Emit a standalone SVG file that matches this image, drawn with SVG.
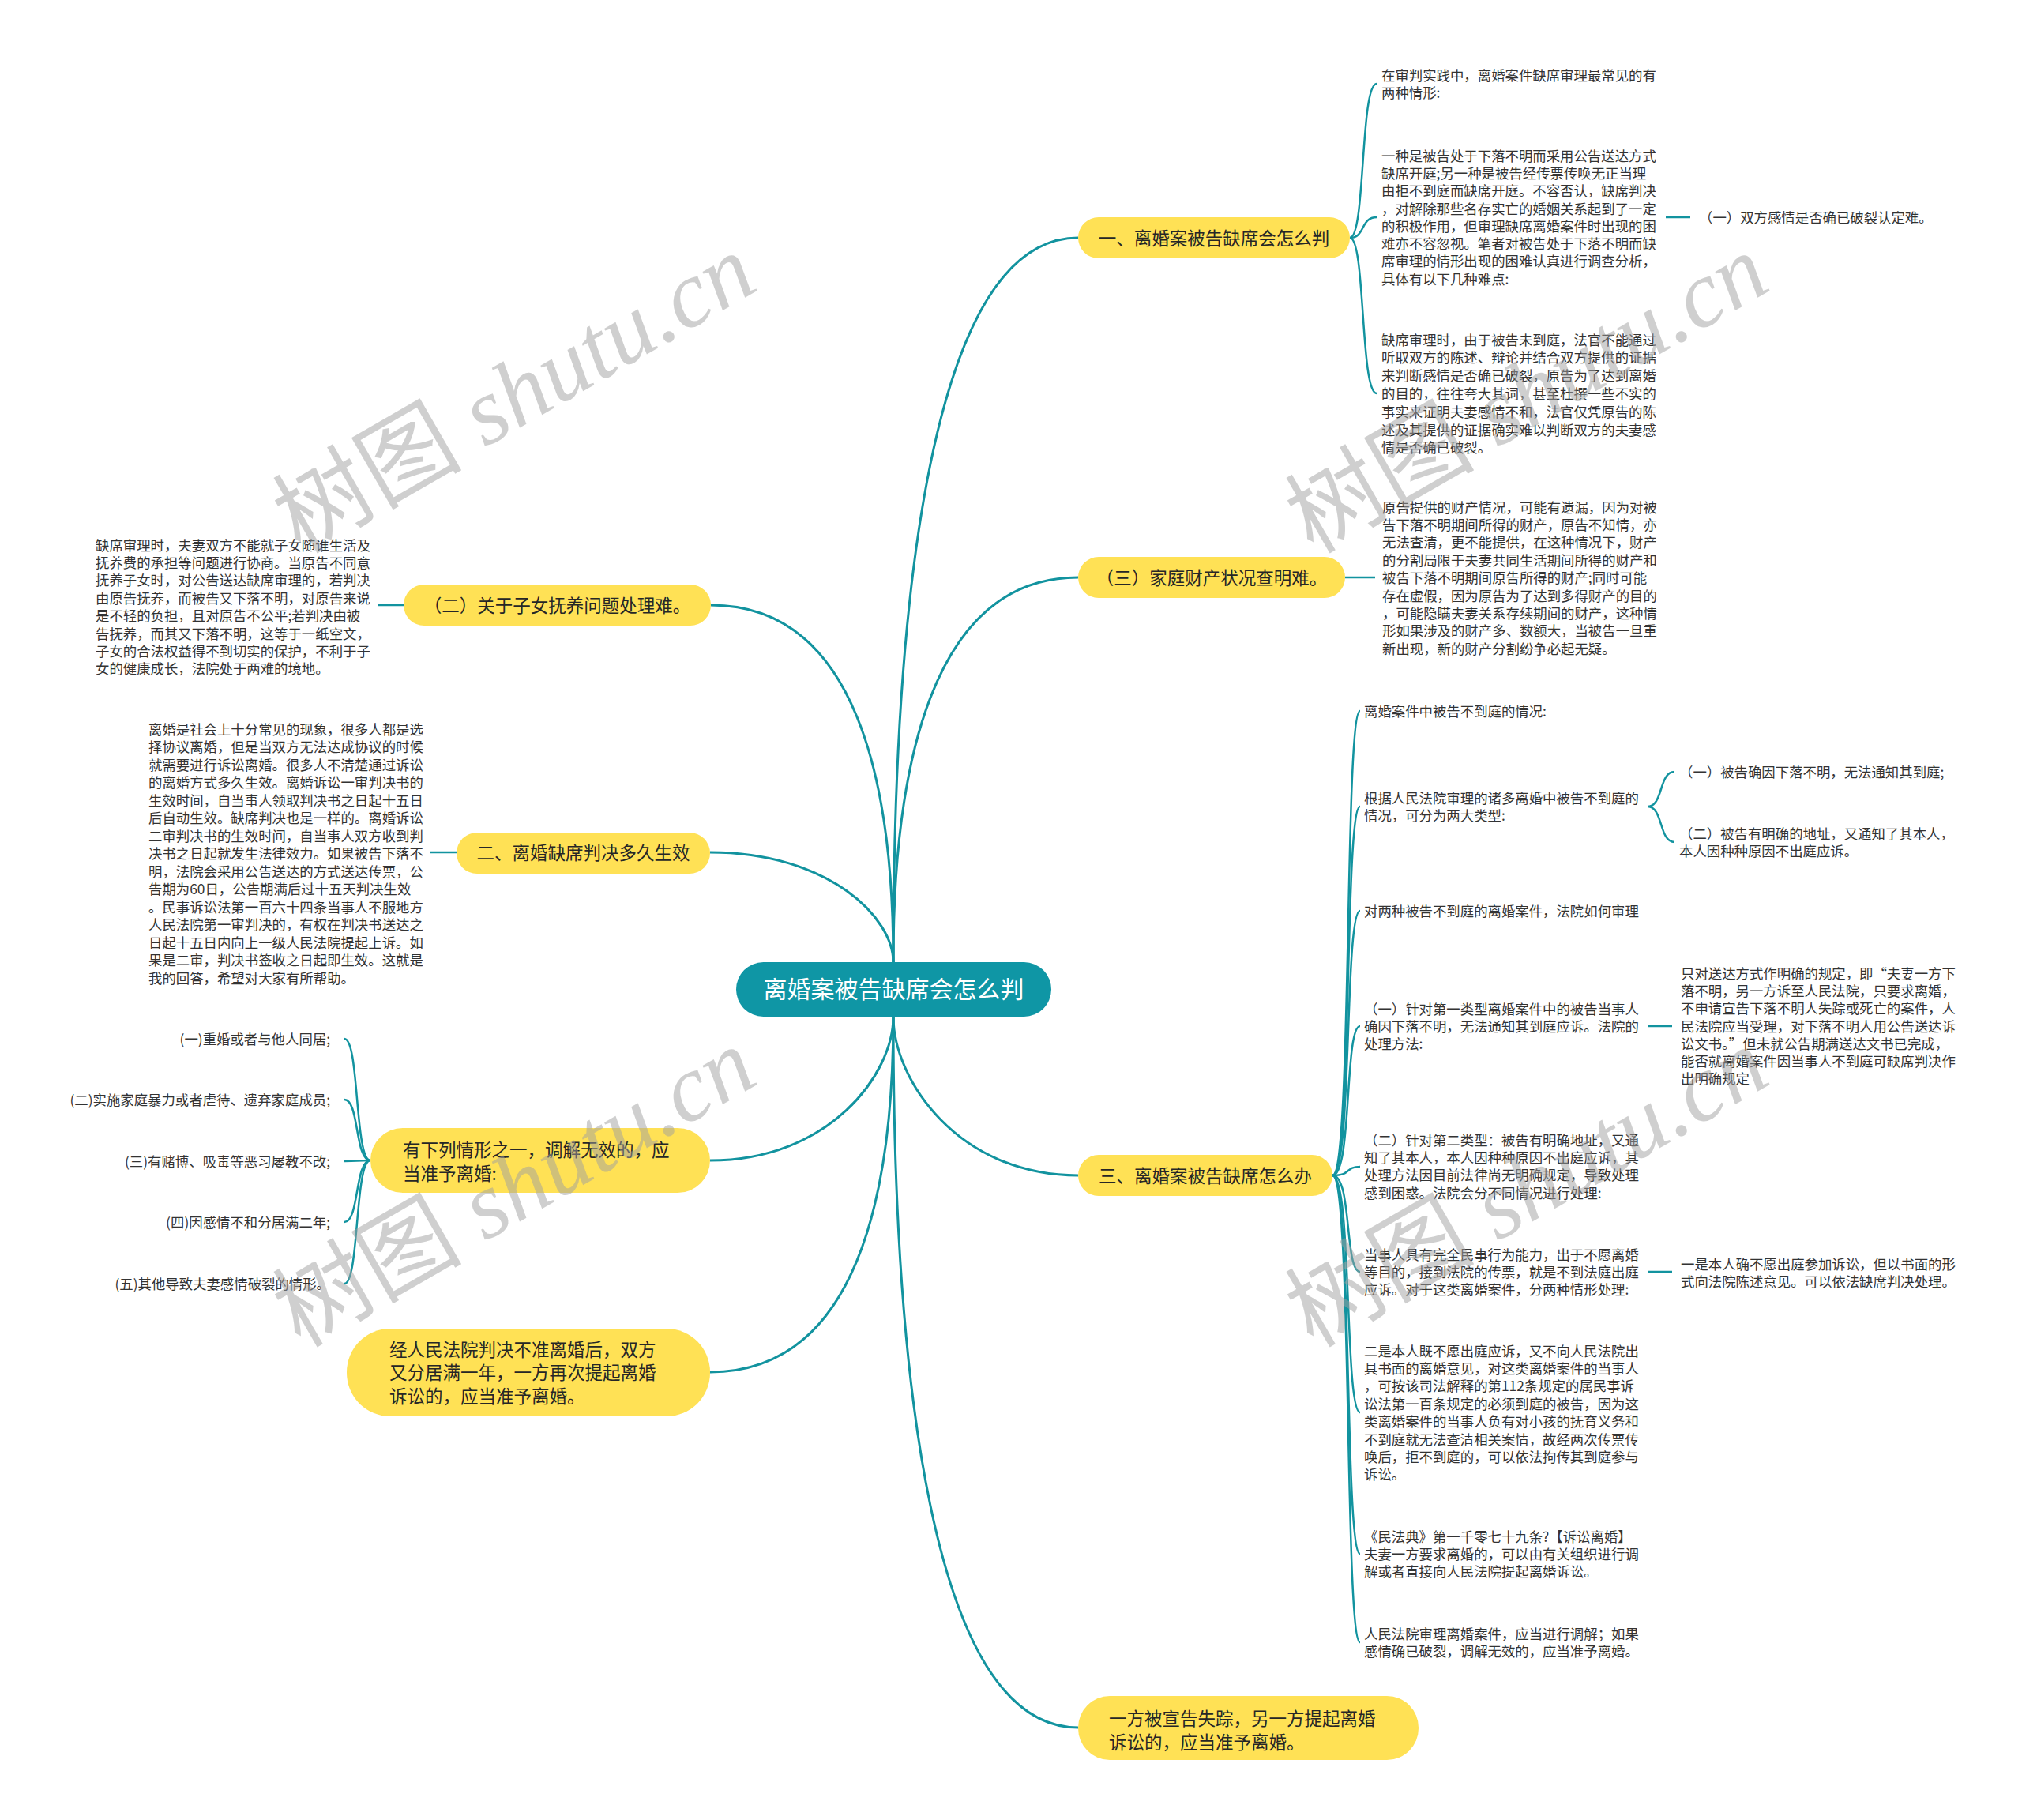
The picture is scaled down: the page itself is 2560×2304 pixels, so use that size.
<svg xmlns="http://www.w3.org/2000/svg" width="2560" height="2304" viewBox="0 0 2560 2304">
<style>
text{font-family:"Noto Sans CJK SC","Noto Sans",sans-serif;}
.leaf{font-size:17.4px;fill:#333;}
.br{font-size:22.5px;fill:#262626;}
.ctr{font-size:30px;fill:#fff;}
.node{fill:#FFE155;}
.cnode{fill:#0f96a5;}
.link{fill:none;stroke:#12939f;stroke-width:3;}
.thin{fill:none;stroke:#12939f;stroke-width:2.5;}
.wm{font-family:"Liberation Serif","Noto Sans CJK SC",serif;font-size:120px;fill:#a0a0a0;opacity:0.5;}
</style>
<rect width="2560" height="2304" fill="#fff"/>
<g id="connectors">
<path class="link" d="M1131,1218 C1131,760 1178,301 1365,301"/>
<path class="link" d="M1131,1218 C1131,975 1178,731 1365,731"/>
<path class="link" d="M1131,1218 C1131,992 1085,766 900,766"/>
<path class="link" d="M1131,1218 C1131,1162 1050,1079 899,1079"/>
<path class="link" d="M1131,1287 C1131,1367 1213,1488 1365,1488"/>
<path class="link" d="M1131,1287 C1131,1737 1178,2187 1365,2187"/>
<path class="link" d="M1131,1287 C1131,1360 1050,1469 899,1469"/>
<path class="link" d="M1131,1287 C1131,1512 1085,1737 899,1737"/>
<path class="thin" d="M1709,301 C1729,301 1722,106 1743,106"/>
<path class="thin" d="M1709,301 C1729,301 1722,275 1743,275"/>
<path class="thin" d="M1709,301 C1729,301 1722,498 1743,498"/>
<path class="thin" d="M2109,275 L2140,275"/>
<path class="thin" d="M1703,731 L1741,731"/>
<path class="thin" d="M479,766 L511,766"/>
<path class="thin" d="M545,1079 L578,1079"/>
<path class="thin" d="M469,1469 C449,1469 455,1315 436,1315"/>
<path class="thin" d="M469,1469 C449,1469 455,1392 436,1392"/>
<path class="thin" d="M469,1469 C449,1469 455,1470 436,1470"/>
<path class="thin" d="M469,1469 C449,1469 455,1547 436,1547"/>
<path class="thin" d="M469,1469 C449,1469 455,1625 436,1625"/>
<path class="thin" d="M1687,1488 C1712,1488 1702,900 1722,900"/>
<path class="thin" d="M1687,1488 C1712,1488 1702,1021 1722,1021"/>
<path class="thin" d="M1687,1488 C1712,1488 1702,1153 1722,1153"/>
<path class="thin" d="M1687,1488 C1712,1488 1702,1299 1722,1299"/>
<path class="thin" d="M1687,1488 C1712,1488 1702,1477 1722,1477"/>
<path class="thin" d="M1687,1488 C1712,1488 1702,1610 1722,1610"/>
<path class="thin" d="M1687,1488 C1712,1488 1702,1788 1722,1788"/>
<path class="thin" d="M1687,1488 C1712,1488 1702,1967 1722,1967"/>
<path class="thin" d="M1687,1488 C1712,1488 1702,2079 1722,2079"/>
<path class="thin" d="M2086,1021 C2106,1021 2100,977 2120,977"/>
<path class="thin" d="M2086,1021 C2106,1021 2100,1066 2120,1066"/>
<path class="thin" d="M2087,1299 L2117,1299"/>
<path class="thin" d="M2087,1610 L2117,1610"/>
</g>
<g id="center">
<rect class="cnode" x="932" y="1218" width="399" height="69" rx="34.5"/>
<text class="ctr" x="1131.5" y="1263.4" text-anchor="middle">离婚案被告缺席会怎么判</text>
</g>
<g id="b1">
<rect class="node" x="1365" y="275" width="344" height="52" rx="26"/>
<text class="br" x="1537" y="309.5" text-anchor="middle">一、离婚案被告缺席会怎么判</text>
</g>
<g id="b1-leaf1">
<text class="leaf" x="1749" y="101.6"><tspan x="1749">在审判实践中，离婚案件缺席审理最常见的有</tspan><tspan x="1749" dy="22.8">两种情形:</tspan></text>
</g>
<g id="b1-leaf2">
<text class="leaf" x="1749" y="203.6"><tspan x="1749">一种是被告处于下落不明而采用公告送达方式</tspan><tspan x="1749" dy="22.3">缺席开庭;另一种是被告经传票传唤无正当理</tspan><tspan x="1749" dy="22.3">由拒不到庭而缺席开庭。不容否认，缺席判决</tspan><tspan x="1749" dy="22.3">，对解除那些名存实亡的婚姻关系起到了一定</tspan><tspan x="1749" dy="22.3">的积极作用，但审理缺席离婚案件时出现的困</tspan><tspan x="1749" dy="22.3">难亦不容忽视。笔者对被告处于下落不明而缺</tspan><tspan x="1749" dy="22.3">席审理的情形出现的困难认真进行调查分析，</tspan><tspan x="1749" dy="22.3">具体有以下几种难点:</tspan></text>
</g>
<g id="b1-leaf2-sub">
<text class="leaf" x="2151" y="281.6">（一）双方感情是否确已破裂认定难。</text>
</g>
<g id="b1-leaf3">
<text class="leaf" x="1749" y="436.6"><tspan x="1749">缺席审理时，由于被告未到庭，法官不能通过</tspan><tspan x="1749" dy="22.8">听取双方的陈述、辩论并结合双方提供的证据</tspan><tspan x="1749" dy="22.8">来判断感情是否确已破裂，原告为了达到离婚</tspan><tspan x="1749" dy="22.8">的目的，往往夸大其词，甚至杜撰一些不实的</tspan><tspan x="1749" dy="22.8">事实来证明夫妻感情不和，法官仅凭原告的陈</tspan><tspan x="1749" dy="22.8">述及其提供的证据确实难以判断双方的夫妻感</tspan><tspan x="1749" dy="22.8">情是否确已破裂。</tspan></text>
</g>
<g id="b2">
<rect class="node" x="1365" y="705" width="338" height="52" rx="26"/>
<text class="br" x="1534" y="739.5" text-anchor="middle">（三）家庭财产状况查明难。</text>
</g>
<g id="b2-leaf">
<text class="leaf" x="1750" y="648.6"><tspan x="1750">原告提供的财产情况，可能有遗漏，因为对被</tspan><tspan x="1750" dy="22.4">告下落不明期间所得的财产，原告不知情，亦</tspan><tspan x="1750" dy="22.4">无法查清，更不能提供，在这种情况下，财产</tspan><tspan x="1750" dy="22.4">的分割局限于夫妻共同生活期间所得的财产和</tspan><tspan x="1750" dy="22.4">被告下落不明期间原告所得的财产;同时可能</tspan><tspan x="1750" dy="22.4">存在虚假，因为原告为了达到多得财产的目的</tspan><tspan x="1750" dy="22.4">，可能隐瞒夫妻关系存续期间的财产，这种情</tspan><tspan x="1750" dy="22.4">形如果涉及的财产多、数额大，当被告一旦重</tspan><tspan x="1750" dy="22.4">新出现，新的财产分割纷争必起无疑。</tspan></text>
</g>
<g id="b3">
<rect class="node" x="511" y="740" width="389" height="52" rx="26"/>
<text class="br" x="705.5" y="774.5" text-anchor="middle">（二）关于子女抚养问题处理难。</text>
</g>
<g id="b3-leaf">
<text class="leaf" x="121" y="696.6"><tspan x="121">缺席审理时，夫妻双方不能就子女随谁生活及</tspan><tspan x="121" dy="22.4">抚养费的承担等问题进行协商。当原告不同意</tspan><tspan x="121" dy="22.4">抚养子女时，对公告送达缺席审理的，若判决</tspan><tspan x="121" dy="22.4">由原告抚养，而被告又下落不明，对原告来说</tspan><tspan x="121" dy="22.4">是不轻的负担，且对原告不公平;若判决由被</tspan><tspan x="121" dy="22.4">告抚养，而其又下落不明，这等于一纸空文，</tspan><tspan x="121" dy="22.4">子女的合法权益得不到切实的保护，不利于子</tspan><tspan x="121" dy="22.4">女的健康成长，法院处于两难的境地。</tspan></text>
</g>
<g id="b4">
<rect class="node" x="578" y="1054" width="321" height="52" rx="26"/>
<text class="br" x="738.5" y="1088" text-anchor="middle">二、离婚缺席判决多久生效</text>
</g>
<g id="b4-leaf">
<text class="leaf" x="188" y="929.6"><tspan x="188">离婚是社会上十分常见的现象，很多人都是选</tspan><tspan x="188" dy="22.5">择协议离婚，但是当双方无法达成协议的时候</tspan><tspan x="188" dy="22.5">就需要进行诉讼离婚。很多人不清楚通过诉讼</tspan><tspan x="188" dy="22.5">的离婚方式多久生效。离婚诉讼一审判决书的</tspan><tspan x="188" dy="22.5">生效时间，自当事人领取判决书之日起十五日</tspan><tspan x="188" dy="22.5">后自动生效。缺席判决也是一样的。离婚诉讼</tspan><tspan x="188" dy="22.5">二审判决书的生效时间，自当事人双方收到判</tspan><tspan x="188" dy="22.5">决书之日起就发生法律效力。如果被告下落不</tspan><tspan x="188" dy="22.5">明，法院会采用公告送达的方式送达传票，公</tspan><tspan x="188" dy="22.5">告期为60日，公告期满后过十五天判决生效</tspan><tspan x="188" dy="22.5">。民事诉讼法第一百六十四条当事人不服地方</tspan><tspan x="188" dy="22.5">人民法院第一审判决的，有权在判决书送达之</tspan><tspan x="188" dy="22.5">日起十五日内向上一级人民法院提起上诉。如</tspan><tspan x="188" dy="22.5">果是二审，判决书签收之日起即生效。这就是</tspan><tspan x="188" dy="22.5">我的回答，希望对大家有所帮助。</tspan></text>
</g>
<g id="b5">
<rect class="node" x="469" y="1428" width="430" height="82" rx="41"/>
<text class="br" x="510" y="1463.5"><tspan x="510">有下列情形之一，调解无效的，应</tspan><tspan x="510" dy="30">当准予离婚:</tspan></text>
</g>
<g id="b5-leaves">
<text class="leaf" x="418" y="1321.6" text-anchor="end">(一)重婚或者与他人同居;</text>
<text class="leaf" x="418" y="1398.6" text-anchor="end">(二)实施家庭暴力或者虐待、遗弃家庭成员;</text>
<text class="leaf" x="418" y="1476.6" text-anchor="end">(三)有赌博、吸毒等恶习屡教不改;</text>
<text class="leaf" x="418" y="1553.6" text-anchor="end">(四)因感情不和分居满二年;</text>
<text class="leaf" x="418" y="1631.6" text-anchor="end">(五)其他导致夫妻感情破裂的情形。</text>
</g>
<g id="b6">
<rect class="node" x="439" y="1682" width="460" height="111" rx="55"/>
<text class="br" x="493" y="1716.5"><tspan x="493">经人民法院判决不准离婚后，双方</tspan><tspan x="493" dy="29.5">又分居满一年，一方再次提起离婚</tspan><tspan x="493" dy="29.5">诉讼的，应当准予离婚。</tspan></text>
</g>
<g id="b7">
<rect class="node" x="1365" y="1462" width="322" height="52" rx="26"/>
<text class="br" x="1526" y="1496.5" text-anchor="middle">三、离婚案被告缺席怎么办</text>
</g>
<g id="b7-l1">
<text class="leaf" x="1727" y="906.6">离婚案件中被告不到庭的情况:</text>
</g>
<g id="b7-l2">
<text class="leaf" x="1727" y="1016.6"><tspan x="1727">根据人民法院审理的诸多离婚中被告不到庭的</tspan><tspan x="1727" dy="22.4">情况，可分为两大类型:</tspan></text>
</g>
<g id="b7-l2-s1">
<text class="leaf" x="2126" y="983.6">（一）被告确因下落不明，无法通知其到庭;</text>
</g>
<g id="b7-l2-s2">
<text class="leaf" x="2126" y="1061.6"><tspan x="2126">（二）被告有明确的地址，又通知了其本人，</tspan><tspan x="2126" dy="22.4">本人因种种原因不出庭应诉。</tspan></text>
</g>
<g id="b7-l3">
<text class="leaf" x="1727" y="1159.6">对两种被告不到庭的离婚案件，法院如何审理</text>
</g>
<g id="b7-l4">
<text class="leaf" x="1727" y="1283.6"><tspan x="1727">（一）针对第一类型离婚案件中的被告当事人</tspan><tspan x="1727" dy="22.4">确因下落不明，无法通知其到庭应诉。法院的</tspan><tspan x="1727" dy="22.4">处理方法:</tspan></text>
</g>
<g id="b7-l4-s">
<text class="leaf" x="2128" y="1238.6"><tspan x="2128">只对送达方式作明确的规定，即“夫妻一方下</tspan><tspan x="2128" dy="22.3">落不明，另一方诉至人民法院，只要求离婚，</tspan><tspan x="2128" dy="22.3">不申请宣告下落不明人失踪或死亡的案件，人</tspan><tspan x="2128" dy="22.3">民法院应当受理，对下落不明人用公告送达诉</tspan><tspan x="2128" dy="22.3">讼文书。”但未就公告期满送达文书已完成，</tspan><tspan x="2128" dy="22.3">能否就离婚案件因当事人不到庭可缺席判决作</tspan><tspan x="2128" dy="22.3">出明确规定</tspan></text>
</g>
<g id="b7-l5">
<text class="leaf" x="1727" y="1449.6"><tspan x="1727">（二）针对第二类型：被告有明确地址，又通</tspan><tspan x="1727" dy="22.4">知了其本人，本人因种种原因不出庭应诉，其</tspan><tspan x="1727" dy="22.4">处理方法因目前法律尚无明确规定，导致处理</tspan><tspan x="1727" dy="22.4">感到困惑。法院会分不同情况进行处理:</tspan></text>
</g>
<g id="b7-l6">
<text class="leaf" x="1727" y="1594.6"><tspan x="1727">当事人具有完全民事行为能力，出于不愿离婚</tspan><tspan x="1727" dy="22.4">等目的，接到法院的传票，就是不到法庭出庭</tspan><tspan x="1727" dy="22.4">应诉。对于这类离婚案件，分两种情形处理:</tspan></text>
</g>
<g id="b7-l6-s">
<text class="leaf" x="2128" y="1606.6"><tspan x="2128">一是本人确不愿出庭参加诉讼，但以书面的形</tspan><tspan x="2128" dy="22.4">式向法院陈述意见。可以依法缺席判决处理。</tspan></text>
</g>
<g id="b7-l7">
<text class="leaf" x="1727" y="1716.6"><tspan x="1727">二是本人既不愿出庭应诉，又不向人民法院出</tspan><tspan x="1727" dy="22.4">具书面的离婚意见，对这类离婚案件的当事人</tspan><tspan x="1727" dy="22.4">，可按该司法解释的第112条规定的属民事诉</tspan><tspan x="1727" dy="22.4">讼法第一百条规定的必须到庭的被告，因为这</tspan><tspan x="1727" dy="22.4">类离婚案件的当事人负有对小孩的抚育义务和</tspan><tspan x="1727" dy="22.4">不到庭就无法查清相关案情，故经两次传票传</tspan><tspan x="1727" dy="22.4">唤后，拒不到庭的，可以依法拘传其到庭参与</tspan><tspan x="1727" dy="22.4">诉讼。</tspan></text>
</g>
<g id="b7-l8">
<text class="leaf" x="1727" y="1951.6"><tspan x="1727">《民法典》第一千零七十九条?【诉讼离婚】</tspan><tspan x="1727" dy="22.4">夫妻一方要求离婚的，可以由有关组织进行调</tspan><tspan x="1727" dy="22.4">解或者直接向人民法院提起离婚诉讼。</tspan></text>
</g>
<g id="b7-l9">
<text class="leaf" x="1727" y="2074.6"><tspan x="1727">人民法院审理离婚案件，应当进行调解；如果</tspan><tspan x="1727" dy="22.4">感情确已破裂，调解无效的，应当准予离婚。</tspan></text>
</g>
<g id="b8">
<rect class="node" x="1365" y="2147" width="431" height="81" rx="40"/>
<text class="br" x="1404" y="2183.5"><tspan x="1404">一方被宣告失踪，另一方提起离婚</tspan><tspan x="1404" dy="30">诉讼的，应当准予离婚。</tspan></text>
</g>
<g id="watermarks">
<text class="wm" transform="translate(380,702) rotate(-30)">树图 <tspan font-style="italic">shutu.cn</tspan></text>
<text class="wm" transform="translate(1662,702) rotate(-30)">树图 <tspan font-style="italic">shutu.cn</tspan></text>
<text class="wm" transform="translate(380,1707) rotate(-30)">树图 <tspan font-style="italic">shutu.cn</tspan></text>
<text class="wm" transform="translate(1662,1707) rotate(-30)">树图 <tspan font-style="italic">shutu.cn</tspan></text>
</g>
</svg>
